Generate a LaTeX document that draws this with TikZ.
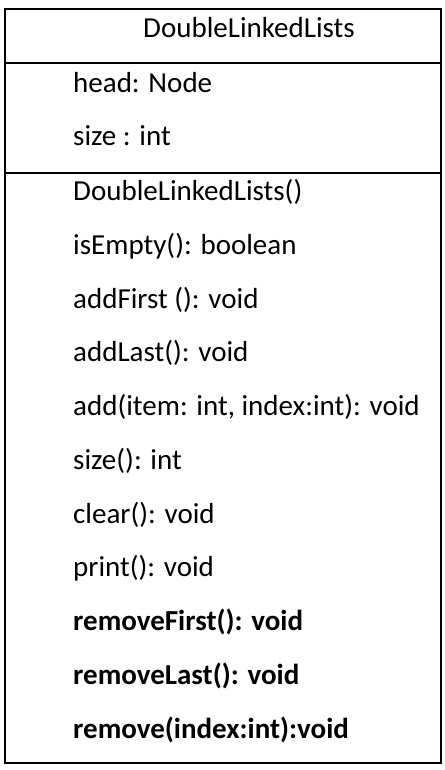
\documentclass[tikz,border=0pt]{standalone}
\usepackage{fontspec}
\setmainfont{Carlito}
\usepackage{xcolor}
\usepackage{tikz}
\usetikzlibrary{positioning}
\definecolor{ink}{HTML}{000000}
\definecolor{paper}{HTML}{FFFFFF}
\tikzset{
  frame/.style={draw=ink, line width=2.6pt, line join=miter},
  rule/.style={draw=ink, line width=2.6pt},
  title/.style={text=ink, inner sep=0pt, anchor=base, font=\fontsize{29}{35}\selectfont},
  member/.style={text=ink, inner sep=0pt, anchor=base west, font=\fontsize{29}{35}\selectfont},
  memberb/.style={member, font=\fontsize{29}{35}\selectfont\bfseries},
}

\begin{document}
\begin{tikzpicture}[x=1pt,y=-1pt]
  \fill[paper] (0,0) rectangle (444,770);
  \useasboundingbox (0,0) rectangle (444,770);
  \coordinate (NW) at (5,9);
  \coordinate (SE) at (441,763);
  \draw[frame] (NW) rectangle (SE);
  \draw[rule] (5,63) -- (441,63);
  \draw[rule] (5,173) -- (441,173);
  \node[title] (name) at (249,38) {DoubleLinkedLists};
  \node[member] (head) at (73,93) {head: Node};
  \node[member] (size) at (73,146) {size : int};
  \node[member] (ctor) at (73,200.5) {DoubleLinkedLists()};
  \node[member] (empty) at (73,254.3) {isEmpty(): boolean};
  \node[member] (addf) at (73,308) {addFirst (): void};
  \node[member] (addl) at (73,361.8) {addLast(): void};
  \node[member] (add) at (73,415.5) {add(item: int, index:int): void};
  \node[member] (sizem) at (73,469.3) {size(): int};
  \node[member] (clear) at (73,523) {clear(): void};
  \node[member] (print) at (73,576.8) {print(): void};
  \node[memberb] (remf) at (73,630.5) {removeFirst(): void};
  \node[memberb] (reml) at (73,684.3) {removeLast(): void};
  \node[memberb] (rem) at (73,738) {remove(index:int):void};
\end{tikzpicture}
\end{document}
